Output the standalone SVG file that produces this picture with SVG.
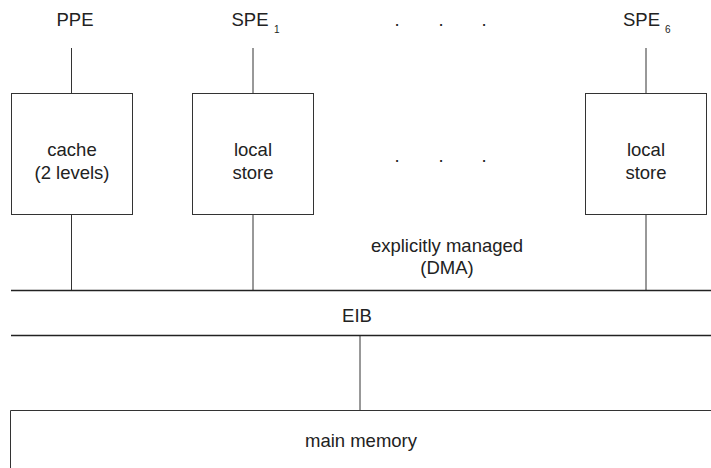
<svg xmlns="http://www.w3.org/2000/svg" width="711" height="468" viewBox="0 0 711 468">
<style>
text{font-family:"Liberation Sans",Arial,sans-serif;font-size:18.5px;fill:#222;text-anchor:middle}
.st{text-anchor:start}
.sub{font-size:10px;text-anchor:start}
.box{fill:#fff;stroke:#333;stroke-width:1}
.ln{stroke:#333;stroke-width:1;fill:none}
.bus{stroke:#222;stroke-width:1.5;fill:none}
</style>
<rect width="711" height="468" fill="#fff"/>
<g id="connectors">
<line class="ln" x1="71.5" y1="48" x2="71.5" y2="93"/>
<line class="ln" x1="71.5" y1="215" x2="71.5" y2="290"/>
<line class="ln" x1="253" y1="48" x2="253" y2="93"/>
<line class="ln" x1="253" y1="215" x2="253" y2="290"/>
<line class="ln" x1="646" y1="48" x2="646" y2="93"/>
<line class="ln" x1="646" y1="215" x2="646" y2="290"/>
<line class="ln" x1="360" y1="335" x2="360" y2="411"/>
</g>
<g id="ppe"><text x="75" y="26">PPE</text></g>
<g id="spe1"><text class="st" x="231.5" y="26">SPE</text><text class="sub" x="274" y="33">1</text></g>
<g id="spe6"><text class="st" x="623" y="26">SPE</text><text class="sub" x="665" y="33">6</text></g>
<g id="dots-top"><text x="397" y="26">.</text><text x="441" y="26">.</text><text x="484" y="26">.</text></g>
<g id="dots-mid"><text x="397" y="162">.</text><text x="441" y="162">.</text><text x="484" y="162">.</text></g>
<g id="cache"><rect class="box" x="11.5" y="93.5" width="121" height="121"/><text x="72" y="156">cache</text><text x="72" y="179">(2 levels)</text></g>
<g id="ls1"><rect class="box" x="192.5" y="93.5" width="121" height="121"/><text x="253" y="156">local</text><text x="253" y="179">store</text></g>
<g id="ls6"><rect class="box" x="585.5" y="93.5" width="121" height="121"/><text x="646" y="156">local</text><text x="646" y="179">store</text></g>
<g id="dma"><text x="447" y="252">explicitly managed</text><text x="447" y="274">(DMA)</text></g>
<g id="eib"><line class="bus" x1="11" y1="290.5" x2="711" y2="290.5"/><line class="bus" x1="11" y1="335.5" x2="711" y2="335.5"/><text x="357" y="322">EIB</text></g>
<g id="main-memory"><path class="ln" d="M10.5 468 V410.5 H711"/><text x="361" y="447">main memory</text></g>
</svg>
